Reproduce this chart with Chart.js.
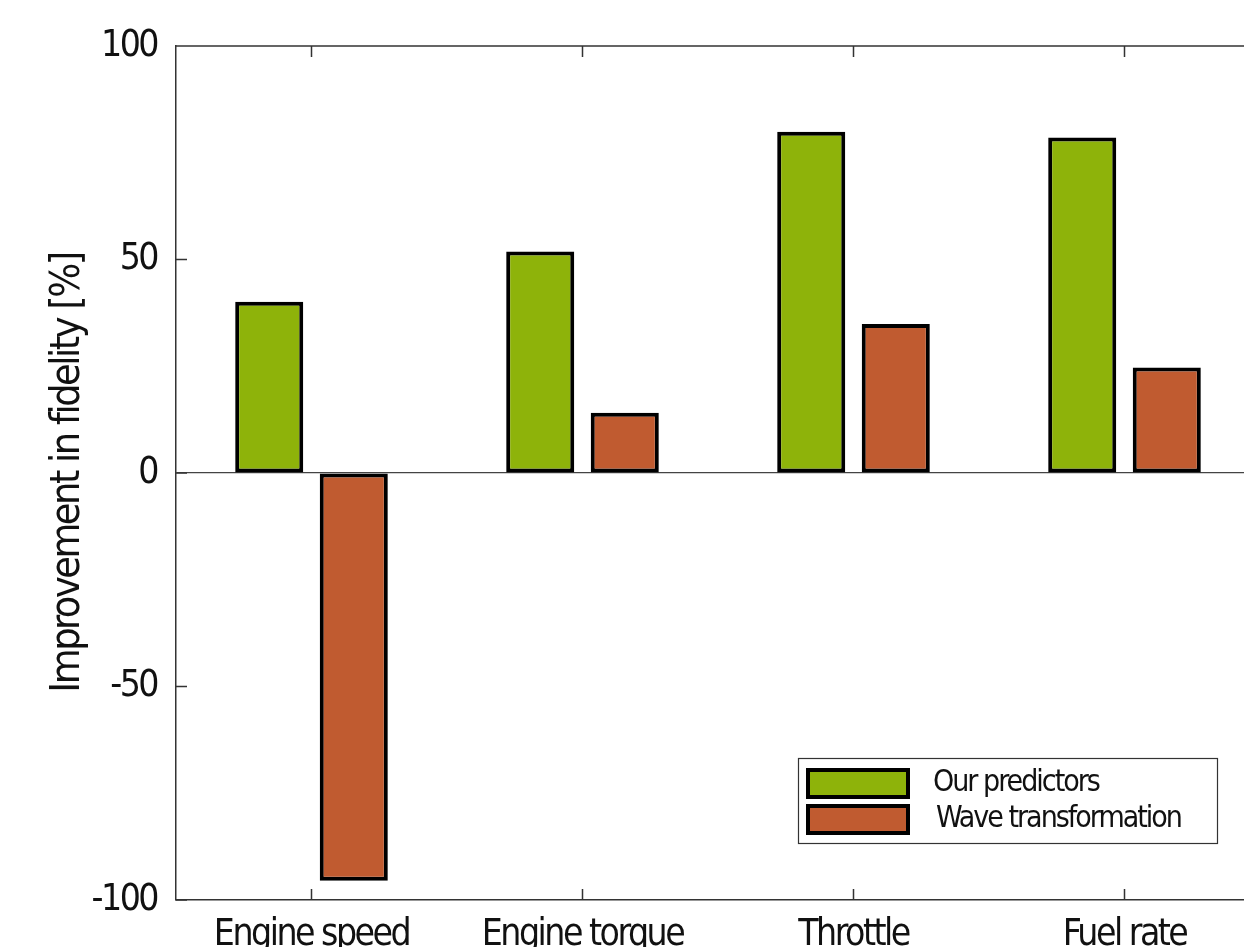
<!DOCTYPE html>
<html>
<head>
<meta charset="utf-8" />
<title>Improvement in fidelity</title>
<script src="https://cdn.jsdelivr.net/npm/chart.js@4.4.0/dist/chart.umd.min.js"></script>
<style>
	body { margin: 0; padding: 0; overflow: hidden; background: #fff; }
	#wrap { position: absolute; left: 0; top: 0; width: 1260px; height: 1000px; }
</style>
</head>
<body>
<div id="wrap"><canvas id="chart" width="1260" height="1000"></canvas></div>

<script>
var categories = ['Engine speed', 'Engine torque', 'Throttle', 'Fuel rate'];
var ourPredictors = [40.1, 51.9, 79.9, 78.6];
var waveTransform = [-95.5, 14.1, 34.9, 24.7];
var yTicks = [-100, -50, 0, 50, 100];
var seriesNames = ['Our predictors', 'Wave transformation'];

var FONT = "'Liberation Sans Narrow', 'DejaVu Sans Condensed', 'Arial Narrow', sans-serif";
var AXIS = '#333333';

// no narrow font here, so squeeze the condensed one a bit
var tightText = {
	id: 'tightText',
	beforeUpdate: function (chart) { chart.ctx.letterSpacing = '-2.5px'; },
	beforeDraw: function (chart) { chart.ctx.letterSpacing = '-2.5px'; }
};

// inward ticks + top/right box lines, matlab style
var boxPlugin = {
	id: 'box',
	afterDatasetsDraw: function (chart) {
		var ctx = chart.ctx, a = chart.chartArea;
		var xs = chart.scales.x, ys = chart.scales.y;
		ctx.save();
		ctx.strokeStyle = AXIS;
		ctx.lineWidth = 1.5;
		ctx.beginPath();
		ctx.moveTo(a.left, a.top); ctx.lineTo(a.right, a.top);
		ctx.moveTo(a.right, a.top); ctx.lineTo(a.right, a.bottom);
		ys.ticks.forEach(function (t, i) {
			var y = ys.getPixelForTick(i);
			ctx.moveTo(a.left, y); ctx.lineTo(a.left + 11, y);
			ctx.moveTo(a.right, y); ctx.lineTo(a.right - 11, y);
		});
		xs.ticks.forEach(function (t, i) {
			var x = xs.getPixelForTick(i);
			ctx.moveTo(x, a.bottom); ctx.lineTo(x, a.bottom - 11);
			ctx.moveTo(x, a.top); ctx.lineTo(x, a.top + 11);
		});
		ctx.stroke();
		ctx.restore();
	}
};

var legendPlugin = {
	id: 'boxLegend',
	afterDraw: function (chart) {
		var ctx = chart.ctx;
		ctx.save();
		ctx.fillStyle = '#fff';
		ctx.fillRect(798, 758, 419, 85);
		ctx.strokeStyle = AXIS;
		ctx.lineWidth = 1.2;
		ctx.strokeRect(798.5, 758.5, 419, 85);
		var rows = [[768, 933], [804, 936]];
		chart.data.datasets.forEach(function (ds, i) {
			var y = rows[i][0];
			ctx.fillStyle = '#000';
			ctx.fillRect(806, y, 104, 31);
			ctx.fillStyle = ds.backgroundColor;
			ctx.fillRect(810, y + 4, 96, 23);
			ctx.fillStyle = '#111';
			ctx.letterSpacing = '-2px';
			ctx.font = '30px ' + FONT;
			ctx.textBaseline = 'middle';
			ctx.fillText(ds.label, rows[i][1], y + 15);
		});
		ctx.restore();
	}
};

var chart = new Chart(document.getElementById('chart'), {
	type: 'bar',
	data: {
		labels: categories,
		datasets: [{
			label: seriesNames[0],
			data: ourPredictors,
			backgroundColor: '#8EB30A',
			borderColor: '#000',
			borderWidth: 4,
			borderSkipped: false
		}, {
			label: seriesNames[1],
			data: waveTransform,
			backgroundColor: '#C05B30',
			borderColor: '#000',
			borderWidth: 4,
			borderSkipped: false
		}]
	},
	options: {
		responsive: false,
		animation: false,
		devicePixelRatio: 1,
		categoryPercentage: 0.624,
		barPercentage: 0.805,
		layout: { padding: { top: 46, left: 0, right: 0, bottom: 0 } },
		plugins: { legend: { display: false }, tooltip: { enabled: false } },
		scales: {
			x: {
				grid: { display: false, drawTicks: false },
				border: { color: AXIS, width: 1.5 },
				ticks: { color: '#111', padding: 13, maxRotation: 0, font: { family: FONT, size: 37 } },
				afterFit: function (s) { s.height = 100; }
			},
			y: {
				min: -100, max: 100,
				afterBuildTicks: function (s) { s.ticks = yTicks.map(function (v) { return { value: v }; }); },
				grid: {
					drawTicks: false,
					color: function (c) { return c.tick && c.tick.value === 0 ? '#444' : 'rgba(0,0,0,0)'; },
					lineWidth: 1.2
				},
				border: { color: AXIS, width: 1.5 },
				ticks: { color: '#111', padding: 19, font: { family: FONT, size: 37 } },
				title: {
					display: true,
					text: 'Improvement in fidelity [%]',
					color: '#111',
					font: { family: FONT, size: 41 },
					padding: { top: 44, bottom: 0 }
				},
				afterFit: function (s) { s.width = 176; }
			}
		}
	},
	plugins: [tightText, boxPlugin, legendPlugin]
});
</script>
</body>
</html>
